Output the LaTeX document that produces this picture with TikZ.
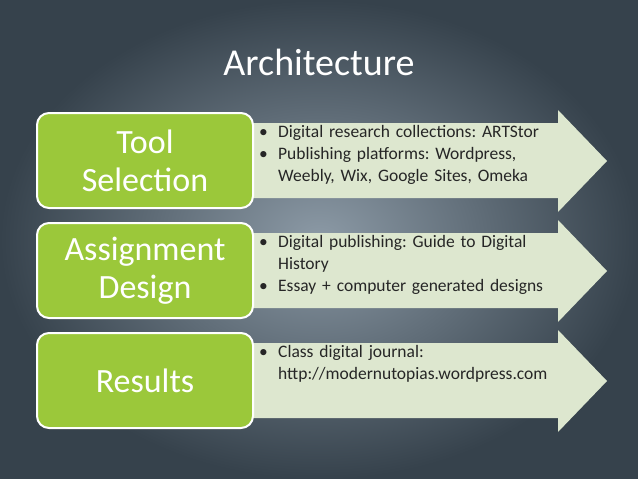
\documentclass[tikz,border=0pt]{standalone}
\usepackage{fontspec}
\setmainfont{Carlito}
\frenchspacing
\usetikzlibrary{positioning}
\definecolor{bgin}{HTML}{8C9AA6}
\definecolor{bgout}{HTML}{36424C}
\definecolor{boxgreen}{HTML}{9BC83A}
\definecolor{arrowfill}{HTML}{DDE7CF}
\definecolor{itemtext}{HTML}{262626}
\newcommand{\itm}{\makebox[19pt][l]{\textbullet}}
\newcommand{\cont}{\hspace*{19pt}}
\begin{document}
\begin{tikzpicture}[x=1pt,y=-1pt]
 \tikzset{stagebox/.style={draw=white,line width=2pt,fill=boxgreen,rounded corners=12pt,
            minimum width=216pt,minimum height=95pt,text=white,font=\fontsize{34}{38}\selectfont,
            align=center,anchor=north west,inner sep=0pt}};
 \tikzset{arrowbody/.style={fill=arrowfill}};
 \tikzset{bullets/.style={anchor=north west,font=\fontsize{17.5}{22}\selectfont,text width=340pt,
            align=left,inner sep=0pt,text=itemtext}};
 % background
 \shade[inner color=bgin,outer color=bgout] (0,0) rectangle (638,479);
 \useasboundingbox (0,0) rectangle (638,479);
 \node[text=white,font=\fontsize{38}{40}\selectfont,name=title] at (319,62) {Architecture};

 %% rows
 \foreach \row/\label/\items in {0/{Tool\\Selection}/{\itm Digital research collections: ARTStor\\
      \itm Publishing platforms: Wordpress,\\\cont Weebly, Wix, Google Sites, Omeka},
   1/{Assignment\\Design}/{\itm Digital publishing: Guide to Digital\\\cont History\\
      \itm Essay + computer generated designs},
   2/{Results}/{\itm Class digital journal:\\\cont http://modernutopias.wordpress.com}} {
   \pgfmathsetmacro{\dy}{110*\row}
   \fill[arrowbody] (220,123+\dy) -- (558,123+\dy) -- (558,110+\dy) -- (607,161+\dy)
        -- (558,212+\dy) -- (558,198+\dy) -- (220,198+\dy) -- cycle;
   \node[stagebox,name=stage\row] at (36,112+\dy) {\label};
   \node[bullets,name=items\row] at (259,125+\dy) {\items};
 }
\end{tikzpicture}
\end{document}
